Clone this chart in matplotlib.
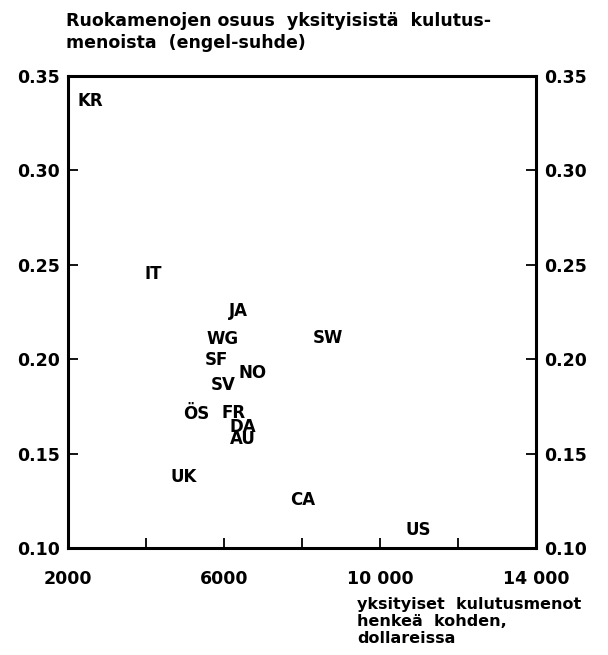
import matplotlib
matplotlib.use('Agg')
import matplotlib.pyplot as plt

# country codes and their positions (label centres)
maat = ['KR', 'IT', 'JA', 'WG', 'SW', 'SF', 'NO', 'SV', 'ÖS', 'FR', 'DA', 'AU', 'UK', 'CA', 'US']
menot = [2560, 4180, 6360, 5975, 8670, 5795, 6720, 5975, 5280, 6255, 6490, 6490, 4975, 8025, 10975]
engel = [0.337, 0.245, 0.2255, 0.2107, 0.211, 0.1996, 0.1926, 0.1863, 0.171, 0.1715, 0.164, 0.1577, 0.1375, 0.1254, 0.1095]

xticks = [2000, 4000, 6000, 8000, 10000, 12000, 14000]
xticklabels = ['2000', '', '6000', '', '10 000', '', '14 000']
yticks = [0.10, 0.15, 0.20, 0.25, 0.30, 0.35]

plt.rcParams['font.family'] = ['DejaVu Sans']
plt.rcParams['font.weight'] = 'bold'

fig = plt.figure(figsize=(6.08, 6.55), dpi=100)
ax = fig.add_axes([68/608, 1-548/655, 468/608, 472/655])

for m, x, y in zip(maat, menot, engel):
    ax.text(x, y, m, ha='center', va='center', fontsize=12, fontweight='bold')

ax.set_xlim(2000, 14000)
ax.set_ylim(0.10, 0.35)
ax.set_xticks(xticks)
ax.set_xticklabels(xticklabels)
ax.set_yticks(yticks)
ax.set_yticklabels(['%.2f' % v for v in yticks])

for s in ax.spines.values():
    s.set_linewidth(2.2)

ax.tick_params(axis='x', direction='in', length=7, width=1.3, pad=16, labelsize=12.5)
ax.tick_params(axis='y', direction='in', length=7, width=1.3, pad=6, labelsize=12.5,
               left=True, right=True, labelleft=True, labelright=True)

fig.text(66/608, 1-12/655, 'Ruokamenojen osuus  yksityisistä  kulutus-\nmenoista  (engel-suhde)',
         ha='left', va='top', fontsize=12.5, fontweight='bold', linespacing=1.28)
fig.text(357/608, 1-597/655, 'yksityiset  kulutusmenot\nhenkeä  kohden,\ndollareissa',
         ha='left', va='top', fontsize=11.5, fontweight='bold', linespacing=1.15)

fig.savefig('out.png', dpi=100)
